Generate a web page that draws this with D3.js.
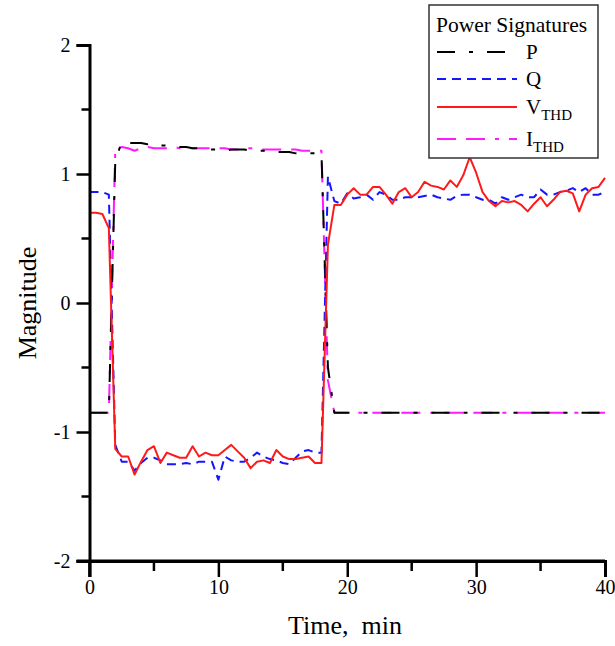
<!DOCTYPE html>
<html>
<head>
<meta charset="utf-8">
<script src="https://cdn.jsdelivr.net/npm/d3@7"></script>
<style>
  body { margin: 0; background: #fff; }
  svg text { font-family: "Liberation Serif", "Times New Roman", serif; }
</style>
</head>
<body>
<div id="container"></div>
<script>

// time in minutes, one sample every half minute
const time = [0,0.5,1,1.5,2,2.5,3,3.5,4,4.5,5,5.5,6,6.5,7,7.5,8,8.5,9,9.5,
  10,10.5,11,11.5,12,12.5,13,13.5,14,14.5,15,15.5,16,16.5,17,17.5,18,18.5,19,19.5,
  20,20.5,21,21.5,22,22.5,23,23.5,24,24.5,25,25.5,26,26.5,27,27.5,28,28.5,29,29.5,
  30,30.5,31,31.5,32,32.5,33,33.5,34,34.5,35,35.5,36,36.5,37,37.5,38,38.5,39,39.5,40];

const P = [-0.85,-0.85,-0.85,-0.85,1.1,1.25,1.24,1.24,1.24,1.23,1.24,1.22,1.22,1.22,1.21,1.21,1.2,1.2,1.2,1.19,
  1.19,1.18,1.19,1.19,1.19,1.18,1.18,1.18,1.17,1.17,1.17,1.17,1.16,1.16,1.16,1.16,1.16,-0.5,-0.85,-0.85,
  -0.85,-0.85,-0.85,-0.85,-0.85,-0.85,-0.85,-0.85,-0.85,-0.85,-0.85,-0.85,-0.85,-0.85,-0.85,-0.85,-0.85,-0.85,-0.85,-0.85,
  -0.85,-0.85,-0.85,-0.85,-0.85,-0.85,-0.85,-0.85,-0.85,-0.85,-0.85,-0.85,-0.85,-0.85,-0.85,-0.85,-0.85,-0.85,-0.85,-0.85,-0.85];

const Q = [0.86,0.86,0.86,0.84,-1.1,-1.23,-1.23,-1.3,-1.24,-1.2,-1.2,-1.22,-1.25,-1.25,-1.25,-1.24,-1.25,-1.23,-1.23,-1.23,
  -1.37,-1.19,-1.22,-1.23,-1.23,-1.2,-1.16,-1.19,-1.21,-1.22,-1.24,-1.25,-1.2,-1.15,-1.14,-1.16,-1.16,0.98,0.79,0.77,
  0.85,0.81,0.82,0.84,0.8,0.86,0.84,0.8,0.8,0.82,0.82,0.82,0.83,0.84,0.82,0.81,0.8,0.83,0.84,0.84,
  0.82,0.8,0.8,0.77,0.82,0.8,0.82,0.84,0.82,0.82,0.88,0.84,0.84,0.86,0.87,0.89,0.86,0.89,0.84,0.84,0.86];

const VTHD = [0.7,0.7,0.69,0.58,-1.13,-1.19,-1.19,-1.33,-1.23,-1.14,-1.11,-1.24,-1.16,-1.18,-1.2,-1.2,-1.11,-1.19,-1.16,-1.18,
  -1.18,-1.14,-1.1,-1.15,-1.2,-1.28,-1.23,-1.22,-1.24,-1.14,-1.19,-1.21,-1.21,-1.2,-1.19,-1.24,-1.24,0.45,0.76,0.76,
  0.84,0.89,0.84,0.84,0.9,0.9,0.84,0.77,0.86,0.89,0.82,0.86,0.94,0.91,0.9,0.88,0.95,0.9,0.99,1.13,
  1.01,0.86,0.79,0.75,0.79,0.78,0.79,0.76,0.71,0.77,0.82,0.75,0.8,0.86,0.87,0.85,0.71,0.84,0.89,0.9,0.97];

const ITHD = [-0.85,-0.85,-0.85,-0.85,1.19,1.21,1.2,1.18,1.2,1.21,1.2,1.2,1.2,1.21,1.2,1.2,1.2,1.2,1.2,1.2,
  1.2,1.2,1.19,1.19,1.2,1.2,1.19,1.19,1.19,1.19,1.19,1.19,1.19,1.18,1.18,1.18,1.18,-0.6,-0.85,-0.85,
  -0.85,-0.85,-0.85,-0.85,-0.85,-0.85,-0.85,-0.85,-0.85,-0.85,-0.85,-0.85,-0.85,-0.85,-0.85,-0.85,-0.85,-0.85,-0.85,-0.85,
  -0.85,-0.85,-0.85,-0.85,-0.85,-0.85,-0.85,-0.85,-0.85,-0.85,-0.85,-0.85,-0.85,-0.85,-0.85,-0.85,-0.85,-0.85,-0.85,-0.85,-0.85];

const xTicks = [0, 10, 20, 30, 40];
const yTicks = [-2, -1, 0, 1, 2];
const seriesNames = ['P', 'Q', 'V', 'I'];
const seriesSubs = ['', '', 'THD', 'THD'];

const width = 615;
const height = 646;

const x = d3.scaleLinear().domain([0, 40]).range([89.5, 605]);
const y = d3.scaleLinear().domain([-2, 2]).range([561, 45]);

const svg = d3.select('#container')
  .append('svg')
  .attr('width', width)
  .attr('height', height);

// series styles
const styles = [
  { data: P, color: '#000', dash: '18,14,4,14' },
  { data: Q, color: '#1515ff', dash: '9,6' },
  { data: VTHD, color: '#ff1a1a', dash: null },
  { data: ITHD, color: '#ff1aff', dash: '19,10,19,10,4,10' }
];

const line = d3.line()
  .x((d, i) => x(time[i]))
  .y(d => y(d));

// draw order: I, P, Q, V so red sits on top
[3, 0, 1, 2].forEach(k => {
  const s = styles[k];
  svg.append('path')
    .attr('d', line(s.data))
    .attr('fill', 'none')
    .attr('stroke', s.color)
    .attr('stroke-width', 2)
    .attr('stroke-dasharray', s.dash)
    .attr('stroke-linejoin', 'round');
});

// axes (plain hyphen for negatives, like the original)
const fmt = d => String(d);
const xAxis = svg.append('g')
  .attr('transform', `translate(0,${y(-2)})`)
  .call(d3.axisBottom(x).tickValues(xTicks).tickSize(16).tickPadding(3).tickFormat(fmt));
const yAxis = svg.append('g')
  .attr('transform', `translate(${x(0)},0)`)
  .call(d3.axisLeft(y).tickValues(yTicks).tickSize(13).tickPadding(6).tickFormat(fmt));

// minor ticks
svg.append('g')
  .selectAll('line')
  .data([5, 15, 25, 35])
  .enter()
  .append('line')
  .attr('x1', d => x(d)).attr('x2', d => x(d))
  .attr('y1', y(-2)).attr('y2', y(-2) + 10)
  .attr('stroke', '#000').attr('stroke-width', 2.5);
svg.append('g')
  .selectAll('line')
  .data([-1.5, -0.5, 0.5, 1.5])
  .enter()
  .append('line')
  .attr('x1', x(0) - 8).attr('x2', x(0))
  .attr('y1', d => y(d)).attr('y2', d => y(d))
  .attr('stroke', '#000').attr('stroke-width', 2.5);

[xAxis, yAxis].forEach(a => {
  a.select('.domain').attr('stroke', '#000').attr('stroke-width', 3);
  a.selectAll('.tick line').attr('stroke', '#000').attr('stroke-width', 2.5);
  a.selectAll('text')
    .attr('fill', '#000')
    .style('font-size', '20px')
    .style('font-family', '"Liberation Serif", serif');
});
// y axis runs down through the x axis
svg.append('line')
  .attr('x1', x(0)).attr('x2', x(0))
  .attr('y1', y(-2)).attr('y2', y(-2) + 16)
  .attr('stroke', '#000').attr('stroke-width', 2.5);
svg.append('line')
  .attr('x1', x(0) - 13).attr('x2', x(40))
  .attr('y1', y(-2)).attr('y2', y(-2))
  .attr('stroke', '#000').attr('stroke-width', 3);

// axis titles
svg.append('text')
  .attr('x', 345).attr('y', 634)
  .attr('text-anchor', 'middle')
  .style('font-size', '26px')
  .style('white-space', 'pre')
  .text('Time,  min');
svg.append('text')
  .attr('transform', 'translate(36,303) rotate(-90)')
  .attr('text-anchor', 'middle')
  .style('font-size', '26px')
  .text('Magnitude');

// legend
const legend = svg.append('g').attr('id', 'legend');
legend.append('rect')
  .attr('x', 429).attr('y', 5)
  .attr('width', 169).attr('height', 153)
  .attr('fill', '#fff')
  .attr('stroke', '#333')
  .attr('stroke-width', 1.5);
legend.append('text')
  .attr('x', 436).attr('y', 32)
  .style('font-size', '21.5px')
  .text('Power Signatures');

const rowY = [52, 79, 107, 139];
styles.forEach((s, i) => {
  legend.append('line')
    .attr('x1', 437).attr('x2', 517)
    .attr('y1', rowY[i]).attr('y2', rowY[i])
    .attr('stroke', s.color)
    .attr('stroke-width', 2)
    .attr('stroke-dasharray', s.dash);
  const t = legend.append('text')
    .attr('x', 526).attr('y', rowY[i] + 7)
    .style('font-size', '21px');
  t.append('tspan').text(seriesNames[i]);
  if (seriesSubs[i]) {
    t.append('tspan')
      .attr('dy', 6)
      .style('font-size', '15px')
      .text(seriesSubs[i]);
  }
});

</script>
</body>
</html>
